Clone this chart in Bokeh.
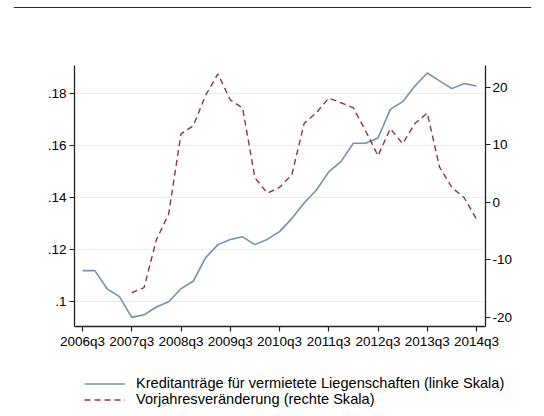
from bokeh.plotting import figure
from bokeh.models import Range1d, LinearAxis, FixedTicker, Legend, LegendItem, ColumnDataSource, Span
from bokeh.layouts import column
from bokeh.embed import file_html
from bokeh.resources import INLINE

# quarters 2006q3 .. 2014q3 (index 0..32)
quarter_idx = list(range(33))
credit = [0.112, 0.112, 0.105, 0.102, 0.094, 0.095, 0.098, 0.100, 0.105, 0.108,
          0.117, 0.122, 0.124, 0.125, 0.122, 0.124, 0.127, 0.132, 0.138, 0.143,
          0.150, 0.154, 0.161, 0.161, 0.163, 0.174, 0.177, 0.183, 0.188, 0.185,
          0.182, 0.184, 0.183]
yoy_idx = list(range(4, 33))
yoy = [-15.7, -14.8, -6.5, -2.0, 11.9, 13.3, 18.6, 22.3, 17.8, 16.4,
       4.3, 1.6, 2.6, 4.8, 13.7, 15.6, 18.1, 17.3, 16.4, 12.4,
       8.1, 12.8, 10.2, 13.7, 15.5, 6.1, 2.6, 0.8, -2.9]

x_tick_pos = [0, 4, 8, 12, 16, 20, 24, 28, 32]
x_tick_labels = ["2006q3", "2007q3", "2008q3", "2009q3", "2010q3",
                 "2011q3", "2012q3", "2013q3", "2014q3"]
left_ticks = [0.1, 0.12, 0.14, 0.16, 0.18]
left_labels = [".1", ".12", ".14", ".16", ".18"]
right_ticks = [-20, -10, 0, 10, 20]
right_labels = ["-20", "-10", "0", "10", "20"]

label_blue = "Kreditanträge für vermietete Liegenschaften (linke Skala)"
label_red = "Vorjahresveränderung (rechte Skala)"

BLUE = "#7490ad"
RED = "#90353b"
AXIS = "#222222"
FONT = "Liberation Sans"
FS = "13.5px"
FS_LEG = "14.6px"

def blank(fig):
    fig.axis.visible = False
    fig.grid.grid_line_color = None
    fig.outline_line_color = None
    fig.background_fill_color = "white"
    fig.border_fill_color = "white"
    fig.frame_align = False

# --- top rule (bottom edge of the cropped header) ---
top = figure(width=544, height=8, output_backend="svg", toolbar_location=None,
             x_range=Range1d(0, 1), y_range=Range1d(0, 8),
             min_border_left=13, min_border_right=13, min_border_top=0,
             min_border_bottom=0)
blank(top)
top.add_layout(Span(location=4.5, dimension="width", line_color="#2a2a2a", line_width=2))

# --- main chart ---
p = figure(width=544, height=344, output_backend="svg", toolbar_location=None,
           x_range=Range1d(-0.65, 32.73), y_range=Range1d(0.0905, 0.1909),
           min_border_left=74, min_border_right=59, min_border_top=57,
           min_border_bottom=26, background_fill_color="white",
           border_fill_color="white", outline_line_color=None)
p.frame_align = False
p.extra_y_ranges = {"right": Range1d(-21.56, 23.77)}

src1 = ColumnDataSource(dict(x=quarter_idx, y=credit))
src2 = ColumnDataSource(dict(x=yoy_idx, y=yoy))
r1 = p.line("x", "y", source=src1, line_color=BLUE, line_width=1.6)
r2 = p.line("x", "y", source=src2, line_color=RED, line_width=1.4,
            line_dash="6 4", y_range_name="right")

def style(ax):
    ax.axis_line_color = AXIS
    ax.axis_line_width = 1.3
    ax.major_tick_line_color = AXIS
    ax.major_tick_line_width = 1.2
    ax.major_tick_in = 0
    ax.major_tick_out = 5
    ax.minor_tick_line_color = None
    ax.major_label_text_font = FONT
    ax.major_label_text_font_size = FS
    ax.major_label_text_color = "black"
    ax.major_label_standoff = 3

xa = p.xaxis[0]
xa.ticker = FixedTicker(ticks=x_tick_pos)
xa.major_label_overrides = {k: v for k, v in zip(x_tick_pos, x_tick_labels)}
style(xa)
xa.major_label_standoff = 2

ya = p.yaxis[0]
ya.ticker = FixedTicker(ticks=left_ticks)
ya.major_label_overrides = {k: v for k, v in zip(left_ticks, left_labels)}
style(ya)
ya.major_label_orientation = "horizontal"

ra = LinearAxis(y_range_name="right", ticker=FixedTicker(ticks=right_ticks))
ra.major_label_overrides = {k: v for k, v in zip(right_ticks, right_labels)}
style(ra)
ra.major_label_standoff = 2
p.add_layout(ra, "right")

p.xgrid.grid_line_color = None
p.ygrid.ticker = FixedTicker(ticks=left_ticks)
p.ygrid.grid_line_color = "#e6eef0"
p.ygrid.grid_line_width = 1

# --- legend strip (series drawn outside its visible range; only the legend shows) ---
leg = figure(width=544, height=64, output_backend="svg", toolbar_location=None,
             x_range=Range1d(0, 1), y_range=Range1d(1000, 1001),
             min_border_left=0, min_border_right=0, min_border_top=0,
             min_border_bottom=0)
blank(leg)
l1 = leg.line("x", "y", source=src1, line_color=BLUE, line_width=1.6)
l2 = leg.line("x", "y", source=src2, line_color=RED, line_width=1.4, line_dash="6 4")
legend = Legend(items=[LegendItem(label=label_blue, renderers=[l1]),
                       LegendItem(label=label_red, renderers=[l2])],
                location=(84, 9), orientation="vertical",
                padding=0, margin=0, spacing=0,
                glyph_width=41, glyph_height=15, label_height=15,
                label_standoff=11, label_text_font=FONT,
                label_text_font_size=FS_LEG, label_text_color="black",
                border_line_color=None, background_fill_alpha=0)
leg.add_layout(legend, "center")

layout = column(top, p, leg, spacing=0)
open("out.html", "w").write(file_html(layout, INLINE))
